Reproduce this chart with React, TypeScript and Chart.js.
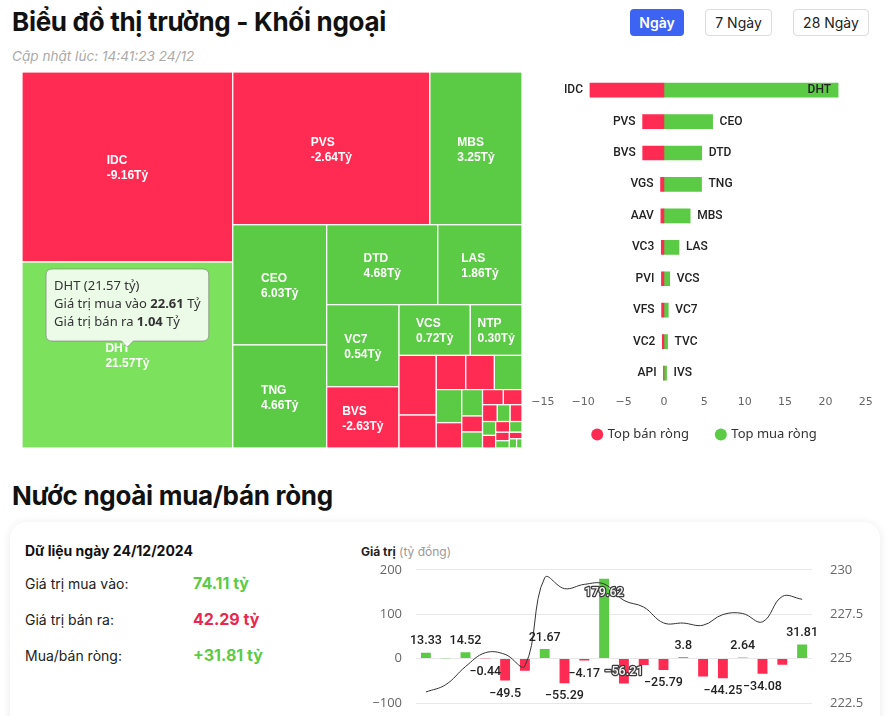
import React, { useEffect, useRef } from 'react';
import { Chart, registerables } from 'chart.js';

Chart.register(...registerables);

// ---------------- data ----------------
// Treemap: foreign buy / sell value per ticker (tỷ đồng)
const TREE_NAMES = ['IDC', 'DHT', 'PVS', 'MBS', 'CEO', 'TNG', 'DTD', 'LAS', 'VC7', 'BVS', 'VCS', 'NTP', 'VGS', 'AAV', 'VC3', 'PVI', 'TVC', 'IVS', 'VFS', 'SHS', 'VC2', 'HUT', 'API', 'TIG', 'PLC', 'L14', 'HLD', 'NVB', 'BCC', 'TAR', 'DDG', 'SLS', 'VNR', 'PVC', 'TDN', 'NBC'];
const TREE_BUY = [7.50, 22.61, 7.76, 5.87, 6.42, 5.25, 5.02, 2.96, 2.06, 0.02, 1.45, 0.94, 0.46, 0.18, 0.14, 0.14, 0.51, 0.42, 0.05, 0.29, 0.00, 0.19, 0.07, 0.07, 0.06, 0.08, 0.05, 0.07, 0.04, 0.03, 0.05, 0.02, 0.04, 0.02, 0.03, 0.02];
const TREE_SELL = [16.66, 1.04, 10.40, 2.62, 0.39, 0.59, 0.34, 1.10, 1.52, 2.65, 0.73, 0.64, 0.88, 0.56, 0.47, 0.45, 0.06, 0.09, 0.34, 0.04, 0.20, 0.01, 0.12, 0.10, 0.09, 0.05, 0.07, 0.04, 0.06, 0.06, 0.03, 0.05, 0.02, 0.03, 0.01, 0.01];
const ACTIVE_TICKER = 'DHT';

// Top net sell / net buy
const SELL_NAMES = ['IDC', 'PVS', 'BVS', 'VGS', 'AAV', 'VC3', 'PVI', 'VFS', 'VC2', 'API'];
const SELL_VALUES = [-9.16, -2.64, -2.63, -0.42, -0.38, -0.33, -0.31, -0.29, -0.20, -0.05];
const BUY_NAMES = ['DHT', 'CEO', 'DTD', 'TNG', 'MBS', 'LAS', 'VCS', 'VC7', 'TVC', 'IVS'];
const BUY_VALUES = [21.57, 6.03, 4.68, 4.66, 3.25, 1.86, 0.72, 0.54, 0.45, 0.33];

// Daily net foreign flow and index
const DAYS = ['27/11', '28/11', '29/11', '02/12', '03/12', '04/12', '05/12', '06/12', '09/12', '10/12', '11/12', '12/12', '13/12', '16/12', '17/12', '18/12', '19/12', '20/12', '23/12', '24/12'];
const NET_FLOW = [13.33, 0.85, 14.52, -0.44, -49.5, -27.5, 21.67, -55.29, -4.17, 179.62, -56.21, -14.2, -25.79, 3.8, -40.3, -44.25, 2.64, -34.08, -13.6, 31.81];
const INDEX_VALUES = [223.12, 223.53, 224.55, 225.33, 225.24, 224.59, 229.55, 228.94, 229.18, 229.2, 228.28, 227.9, 227.01, 227.0, 226.88, 227.48, 227.54, 227.07, 228.5, 228.34];
const HIDDEN_LABEL_DAYS = ['28/11', '04/12', '12/12', '17/12', '23/12'];

const GREEN = '#5BCB46';
const GREEN_ACTIVE = '#7CE25E';
const RED = '#FF2B52';

const minus = (v: number) => (v < 0 ? '\u2212' : '') + Math.abs(v);

type Rect = { x: number; y: number; w: number; h: number; i: number };

function worst(row: number[], side: number) {
  const s = row.reduce((a, b) => a + b, 0);
  const mx = Math.max(...row);
  const mn = Math.min(...row);
  return Math.max((side * side * mx) / (s * s), (s * s) / (side * side * mn));
}

function squarify(sizes: { v: number; i: number }[], x0: number, y0: number, w0: number, h0: number): Rect[] {
  const total = sizes.reduce((a, b) => a + b.v, 0);
  const k = (w0 * h0) / total;
  const items = sizes.map((s) => ({ a: s.v * k, i: s.i }));
  const out: Rect[] = [];
  let x = x0, y = y0, w = w0, h = h0;
  let idx = 0;
  while (idx < items.length) {
    const side = Math.min(w, h);
    let row = [items[idx]];
    let best = worst(row.map((r) => r.a), side);
    let j = idx + 1;
    while (j < items.length) {
      const cand = [...row, items[j]];
      const wc = worst(cand.map((r) => r.a), side);
      if (wc > best) break;
      row = cand;
      best = wc;
      j++;
    }
    const s = row.reduce((a, b) => a + b.a, 0);
    if (w >= h) {
      const t = s / h;
      let cy = y;
      row.forEach((r) => {
        const len = r.a / t;
        out.push({ x, y: cy, w: t, h: len, i: r.i });
        cy += len;
      });
      x += t;
      w -= t;
    } else {
      const t = s / w;
      let cx = x;
      row.forEach((r) => {
        const len = r.a / t;
        out.push({ x: cx, y, w: len, h: t, i: r.i });
        cx += len;
      });
      y += t;
      h -= t;
    }
    idx = j;
  }
  return out;
}

const treemapPlugin = {
  id: 'treemapCells',
  afterDatasetsDraw(chart: any) {
    const { ctx } = chart;
    const xs = chart.scales.x;
    const ys = chart.scales.y;
    const left = xs.getPixelForValue(0);
    const right = xs.getPixelForValue(1);
    const top = ys.getPixelForValue(0);
    const bottom = ys.getPixelForValue(1);
    const sizes = TREE_NAMES.map((_, i) => ({ v: TREE_BUY[i] + TREE_SELL[i], i }));
    sizes.sort((a, b) => b.v - a.v);
    const rects = squarify(sizes, left, top, right - left, bottom - top);
    ctx.save();
    let activeRect: Rect | null = null;
    let activeLabelY = 0;
    rects.forEach((r) => {
      const net = TREE_BUY[r.i] - TREE_SELL[r.i];
      const active = TREE_NAMES[r.i] === ACTIVE_TICKER;
      ctx.fillStyle = net >= 0 ? (active ? GREEN_ACTIVE : GREEN) : RED;
      ctx.fillRect(r.x, r.y, r.w, r.h);
      ctx.strokeStyle = '#ffffff';
      ctx.lineWidth = 1.2;
      ctx.strokeRect(r.x, r.y, r.w, r.h);
    });
    rects.forEach((r) => {
      if (r.w < 45 || r.h < 34) return;
      const net = TREE_BUY[r.i] - TREE_SELL[r.i];
      const l1 = TREE_NAMES[r.i];
      const l2 = net.toFixed(2) + 'Tỷ';
      ctx.font = 'bold 12px "Liberation Sans", Arial, sans-serif';
      const mw = Math.max(ctx.measureText(l1).width, ctx.measureText(l2).width);
      const cx = r.x + r.w / 2;
      const cy = r.y + r.h / 2 + 1.5;
      ctx.fillStyle = '#ffffff';
      ctx.textAlign = 'left';
      ctx.textBaseline = 'middle';
      ctx.fillText(l1, cx - mw / 2, cy - 7.5);
      ctx.fillText(l2, cx - mw / 2, cy + 7.5);
      if (l1 === ACTIVE_TICKER) {
        activeRect = r;
        activeLabelY = cy - 7.5;
      }
    });
    if (activeRect) {
      const r: Rect = activeRect;
      const i = r.i;
      const net = TREE_BUY[i] - TREE_SELL[i];
      const cx = r.x + r.w / 2;
      const tipY = activeLabelY - 2;
      const font = '13px "Noto Sans", sans-serif';
      const bold = 'bold 13px "Noto Sans", sans-serif';
      const lines: [string, boolean][][] = [
        [[`${TREE_NAMES[i]} (${net.toFixed(2)} tỷ)`, false]],
        [['Giá trị mua vào ', false], [TREE_BUY[i].toFixed(2), true], [' Tỷ', false]],
        [['Giá trị bán ra ', false], [TREE_SELL[i].toFixed(2), true], [' Tỷ', false]],
      ];
      let maxW = 0;
      lines.forEach((ln) => {
        let w = 0;
        ln.forEach(([t, b]) => {
          ctx.font = b ? bold : font;
          w += ctx.measureText(t).width;
        });
        maxW = Math.max(maxW, w);
      });
      const bw = maxW + 16;
      const bh = 72;
      const bx = cx - bw / 2;
      const by = tipY - 6 - bh;
      ctx.beginPath();
      const rr = 6;
      ctx.moveTo(bx + rr, by);
      ctx.lineTo(bx + bw - rr, by);
      ctx.quadraticCurveTo(bx + bw, by, bx + bw, by + rr);
      ctx.lineTo(bx + bw, by + bh - rr);
      ctx.quadraticCurveTo(bx + bw, by + bh, bx + bw - rr, by + bh);
      ctx.lineTo(cx + 6, by + bh);
      ctx.lineTo(cx, tipY);
      ctx.lineTo(cx - 6, by + bh);
      ctx.lineTo(bx + rr, by + bh);
      ctx.quadraticCurveTo(bx, by + bh, bx, by + bh - rr);
      ctx.lineTo(bx, by + rr);
      ctx.quadraticCurveTo(bx, by, bx + rr, by);
      ctx.closePath();
      ctx.fillStyle = 'rgba(255,255,255,0.86)';
      ctx.fill();
      ctx.strokeStyle = 'rgba(120,120,120,0.6)';
      ctx.lineWidth = 1;
      ctx.stroke();
      ctx.fillStyle = '#333';
      ctx.textBaseline = 'middle';
      ctx.textAlign = 'left';
      lines.forEach((ln, li) => {
        let tx = bx + 8;
        const ty = by + 17 + li * 18;
        ln.forEach(([t, b]) => {
          ctx.font = b ? bold : font;
          ctx.fillText(t, tx, ty);
          tx += ctx.measureText(t).width;
        });
      });
    }
    ctx.restore();
  },
};

const nameLabelPlugin = {
  id: 'nameLabels',
  afterDatasetsDraw(chart: any) {
    const { ctx, chartArea } = chart;
    const m0 = chart.getDatasetMeta(0);
    const m1 = chart.getDatasetMeta(1);
    ctx.save();
    ctx.font = '500 12px Roboto, sans-serif';
    ctx.fillStyle = '#222';
    ctx.textBaseline = 'middle';
    m0.data.forEach((bar: any, i: number) => {
      ctx.textAlign = 'right';
      ctx.fillText(SELL_NAMES[i], bar.x - 7, bar.y);
    });
    m1.data.forEach((bar: any, i: number) => {
      const t = BUY_NAMES[i];
      const w = ctx.measureText(t).width;
      if (bar.x + 7 + w > chartArea.right) {
        ctx.textAlign = 'right';
        ctx.fillText(t, bar.x - 7, bar.y);
      } else {
        ctx.textAlign = 'left';
        ctx.fillText(t, bar.x + 7, bar.y);
      }
    });
    ctx.restore();
  },
};

const INSIDE_LIMIT = 56;
const flowLabelPlugin = {
  id: 'flowLabels',
  afterDatasetsDraw(chart: any) {
    const { ctx } = chart;
    const meta = chart.getDatasetMeta(0);
    ctx.save();
    ctx.font = '500 12.5px Roboto, sans-serif';
    ctx.textAlign = 'center';
    ctx.textBaseline = 'middle';
    meta.data.forEach((bar: any, i: number) => {
      if (HIDDEN_LABEL_DAYS.includes(DAYS[i])) return;
      const v = NET_FLOW[i];
      const txt = minus(v);
      const inside = Math.abs(v) >= INSIDE_LIMIT;
      let y: number;
      if (v >= 0) y = inside ? bar.y + 14 : bar.y - 11.5;
      else y = inside ? bar.y - 12 : bar.y + 13;
      if (inside) {
        ctx.lineWidth = 2.5;
        ctx.strokeStyle = '#3a3a3a';
        ctx.lineJoin = 'round';
        ctx.strokeText(txt, bar.x, y);
        ctx.fillStyle = '#f2f2f2';
        ctx.fillText(txt, bar.x, y);
      } else {
        ctx.fillStyle = '#222';
        ctx.fillText(txt, bar.x, y);
      }
    });
    ctx.restore();
  },
};

export default function App() {
  const treeRef = useRef<HTMLCanvasElement>(null);
  const barRef = useRef<HTMLCanvasElement>(null);
  const flowRef = useRef<HTMLCanvasElement>(null);

  useEffect(() => {
    const charts: Chart[] = [];
    charts.push(
      new Chart(treeRef.current!, {
        type: 'scatter',
        data: { datasets: [{ data: [] }] },
        options: {
          animation: false,
          responsive: false,
          layout: { padding: 0 },
          scales: {
            x: { type: 'linear', min: 0, max: 1, display: false },
            y: { type: 'linear', min: 0, max: 1, reverse: true, display: false },
          },
          plugins: { legend: { display: false }, tooltip: { enabled: false } },
        },
        plugins: [treemapPlugin],
      } as any)
    );

    charts.push(
      new Chart(barRef.current!, {
        type: 'bar',
        data: {
          labels: SELL_NAMES.map((s, i) => s + '/' + BUY_NAMES[i]),
          datasets: [
            { label: 'Top bán ròng', data: SELL_VALUES, backgroundColor: RED, borderWidth: 0, barThickness: 14 },
            { label: 'Top mua ròng', data: BUY_VALUES, backgroundColor: GREEN, borderWidth: 0, barThickness: 14 },
          ],
        },
        options: {
          animation: false,
          responsive: false,
          indexAxis: 'y',
          layout: { padding: { top: 6.4, left: 6, right: 0, bottom: 0 } },
          scales: {
            x: {
              stacked: true,
              min: -15,
              max: 25,
              ticks: { stepSize: 5, padding: 7.2, color: '#666', font: { family: '"DejaVu Sans", sans-serif', size: 11 }, callback: (v: any) => minus(Number(v)) },
              grid: { display: false, drawTicks: false },
              border: { display: false },
            },
            y: { stacked: true, display: false },
          },
          plugins: {
            tooltip: { enabled: false },
            legend: {
              position: 'bottom',
              labels: {
                usePointStyle: true,
                pointStyle: 'circle',
                boxWidth: 8,
                boxHeight: 8.5,
                padding: 11.6,
                color: '#333',
                font: { family: '"Noto Sans", sans-serif', size: 13 },
                generateLabels: (chart: any) =>
                  Chart.defaults.plugins.legend.labels.generateLabels(chart).map((item: any, k: number, arr: any[]) => ({
                    ...item,
                    text: k < arr.length - 1 ? item.text + '\u2003\u2005' : item.text,
                  })),
              },
            },
          },
        },
        plugins: [nameLabelPlugin],
      } as any)
    );

    charts.push(
      new Chart(flowRef.current!, {
        type: 'bar',
        data: {
          labels: DAYS,
          datasets: [
            {
              type: 'bar',
              label: 'Mua/bán ròng',
              data: NET_FLOW,
              backgroundColor: NET_FLOW.map((v) => (v >= 0 ? GREEN : RED)),
              barPercentage: 0.5,
              categoryPercentage: 1,
              yAxisID: 'y',
              order: 1,
            },
            {
              type: 'line',
              label: 'Index',
              data: INDEX_VALUES,
              borderColor: '#333',
              borderWidth: 1,
              pointRadius: 0,
              tension: 0.4,
              yAxisID: 'y1',
              order: 0,
            },
          ],
        },
        options: {
          animation: false,
          responsive: false,
          layout: { padding: 0 },
          scales: {
            x: {
              grid: { display: false },
              border: { display: false },
              ticks: { color: '#999', font: { size: 11 }, maxRotation: 45, minRotation: 45, autoSkip: false },
              afterFit: (s: any) => { s.height = 40; },
            },
            y: {
              position: 'left',
              min: -100,
              max: 200,
              ticks: { stepSize: 100, color: '#666', padding: 14, font: { family: '"Open Sans", sans-serif', size: 13 }, callback: (v: any) => minus(Number(v)) },
              grid: { color: '#e8e8e8', drawTicks: false },
              border: { display: false },
              afterFit: (s: any) => { s.width = 61; },
            },
            y1: {
              position: 'right',
              min: 222.5,
              max: 230,
              ticks: { stepSize: 2.5, color: '#666', padding: 18, font: { family: '"Open Sans", sans-serif', size: 13 } },
              grid: { display: false, drawTicks: false },
              border: { display: false },
              afterFit: (s: any) => { s.width = 68; },
            },
          },
          plugins: { legend: { display: false }, tooltip: { enabled: false } },
        },
        plugins: [flowLabelPlugin],
      } as any)
    );

    return () => charts.forEach((c) => c.destroy());
  }, []);

  const btn = (label: string, left: number, width: number, active: boolean) => (
    <div
      style={{
        position: 'absolute',
        left,
        top: 9,
        width,
        height: 27,
        boxSizing: 'border-box',
        borderRadius: 4,
        border: active ? 'none' : '1px solid #dcdcdc',
        background: active ? '#3C63F2' : '#fff',
        color: active ? '#fff' : '#222',
        fontSize: 14,
        fontWeight: active ? 600 : 400,
        display: 'flex',
        alignItems: 'center',
        justifyContent: 'center',
      }}
    >
      {label}
    </div>
  );

  const abs = (left: number, top: number, extra: React.CSSProperties = {}): React.CSSProperties => ({
    position: 'absolute',
    left,
    top,
    whiteSpace: 'nowrap',
    ...extra,
  });

  return (
    <div style={{ position: 'fixed', inset: 0, overflow: 'hidden', background: '#fff', fontFamily: 'Inter, "Noto Sans", sans-serif', color: '#111' }}>
      <div style={abs(12, 6, { fontSize: 26, fontWeight: 700, lineHeight: '32px', letterSpacing: -0.3 })}>Biểu đồ thị trường - Khối ngoại</div>
      <div style={abs(12, 46, { fontSize: 13.6, fontStyle: 'italic', color: '#aaa', lineHeight: '20px' })}>Cập nhật lúc: 14:41:23 24/12</div>
      {btn('Ngày', 630, 54, true)}
      {btn('7 Ngày', 705, 67, false)}
      {btn('28 Ngày', 793, 76, false)}

      <canvas ref={treeRef} width={500} height={376} style={{ position: 'absolute', left: 22, top: 72 }} />
      <canvas ref={barRef} width={356} height={383} style={{ position: 'absolute', left: 524, top: 68 }} />

      <div style={abs(12, 480, { fontSize: 26, fontWeight: 700, lineHeight: '32px', letterSpacing: -0.3 })}>Nước ngoài mua/bán ròng</div>

      <div style={{ position: 'absolute', left: 10, top: 522, width: 870, height: 260, borderRadius: 16, background: '#fff', boxShadow: '0 1px 10px rgba(0,0,0,0.09)' }} />

      <div style={abs(25, 541, { fontSize: 14, fontWeight: 700, lineHeight: '20px' })}>Dữ liệu ngày 24/12/2024</div>
      <div style={abs(25, 574, { fontSize: 14, lineHeight: '20px', color: '#222' })}>Giá trị mua vào:</div>
      <div style={abs(193, 573, { fontSize: 16, fontWeight: 700, lineHeight: '20px', color: GREEN })}>74.11 tỷ</div>
      <div style={abs(25, 610, { fontSize: 14, lineHeight: '20px', color: '#222' })}>Giá trị bán ra:</div>
      <div style={abs(193, 609, { fontSize: 16, fontWeight: 700, lineHeight: '20px', color: '#E9284F' })}>42.29 tỷ</div>
      <div style={abs(25, 646, { fontSize: 14, lineHeight: '20px', color: '#222' })}>Mua/bán ròng:</div>
      <div style={abs(193, 645, { fontSize: 16, fontWeight: 700, lineHeight: '20px', color: GREEN })}>+31.81 tỷ</div>

      <div style={abs(361, 543, { fontSize: 12, lineHeight: '18px' })}>
        <span style={{ fontWeight: 700, color: '#222' }}>Giá trị</span>
        <span style={{ color: '#999' }}> (tỷ đồng)</span>
      </div>
      <canvas ref={flowRef} width={525} height={199} style={{ position: 'absolute', left: 355, top: 544 }} />
    </div>
  );
}
